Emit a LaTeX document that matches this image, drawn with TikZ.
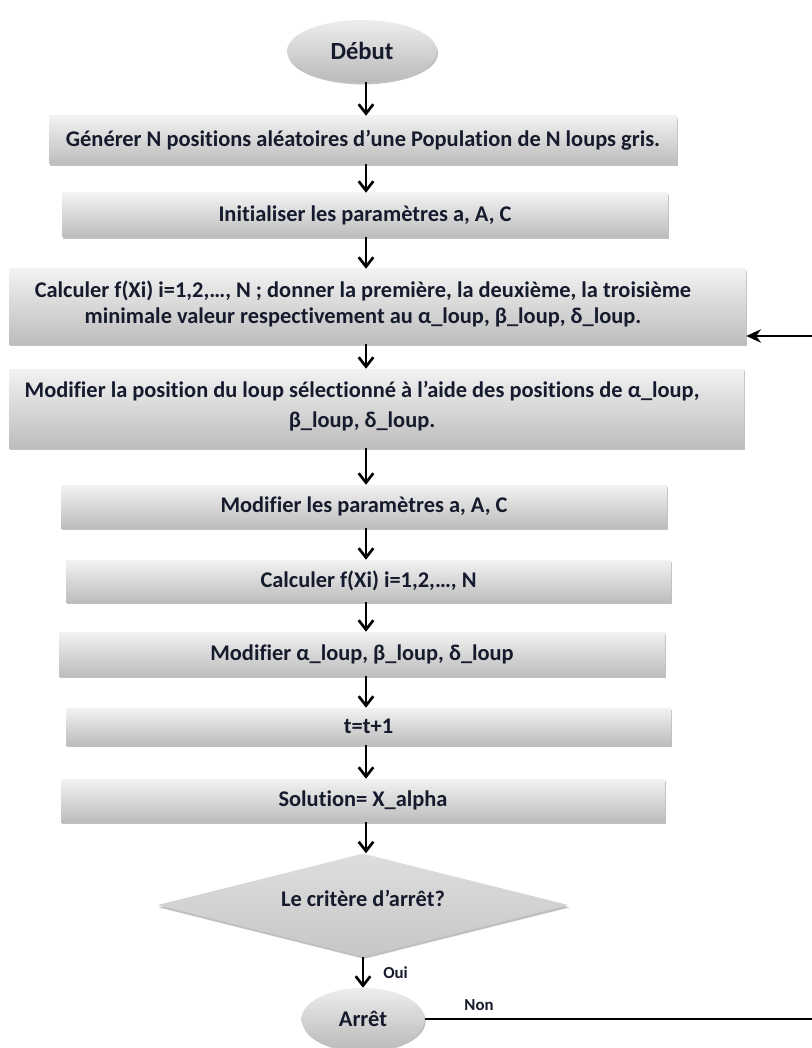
\documentclass[tikz,border=0pt]{standalone}
\usepackage{fontspec}
\setmainfont{Carlito}[Ligatures=NoCommon]
\usetikzlibrary{arrows.meta,shapes.geometric,shadows}

\definecolor{ink}{HTML}{151B2C}

\begin{document}
\begin{tikzpicture}[x=0.75pt,y=-0.75pt,
  lbl/.style={font=\fontsize{16.8}{19.5}\selectfont\bfseries, text=ink, align=center, inner sep=0pt},
  small/.style={font=\fontsize{12.6}{14}\selectfont\bfseries, text=ink, inner sep=0pt},
  soft/.style={drop shadow={shadow xshift=0.8pt, shadow yshift=-1.8pt, opacity=0.35, fill=black!70}},
  stepbox/.style={rectangle, draw=none, top color=black!5, bottom color=black!26,
    inner sep=0pt, soft, lbl},
  term/.style={ellipse, draw=none, top color=black!7, bottom color=black!27,
    inner sep=0pt, soft, lbl},
  test/.style={diamond, draw=none, top color=black!13, bottom color=black!22,
    aspect=4, inner sep=0pt, soft},
  flow/.style={line width=2pt, -{Straight Barb[length=7pt,width=11pt,line width=2pt]}},
  back/.style={line width=2pt},
  backin/.style={line width=2pt, -{Stealth[length=11pt,width=10pt]}}
]
\useasboundingbox (0,0) rectangle (811,1048);
\coordinate (col) at (366,0);

% start / stop terminals
\node[term, font=\fontsize{18.5}{20}\selectfont\bfseries,
  minimum width=150*0.75pt, minimum height=62*0.75pt] (debut) at (362,51) {Début};

% process boxes
\node[stepbox, minimum width=628*0.75pt, minimum height=48*0.75pt] (b1) at (363,140)
  {Générer N positions aléatoires d’une Population de N loups gris.};
\node[stepbox, minimum width=606*0.75pt, minimum height=44*0.75pt] (b2) at (365,215)
  {Initialiser les paramètres a, A, C};
\node[stepbox, minimum width=737*0.75pt, minimum height=75*0.75pt] (b3) at (377.5,306.5) {};
\node[lbl] (b3t) at (363,304)
  {Calculer f(Xi) i=1,2,…, N ; donner la première, la deuxième, la troisième\\
   minimale valeur respectivement au α\_loup, β\_loup, δ\_loup.};
\node[stepbox, minimum width=735*0.75pt, minimum height=79*0.75pt] (b4) at (376.5,408.5) {};
\node[lbl, font=\fontsize{16.8}{22.5}\selectfont\bfseries] (b4t) at (362,406)
  {Modifier la position du loup sélectionné à l’aide des positions de α\_loup,\\
   β\_loup, δ\_loup.};
\node[stepbox, minimum width=606*0.75pt, minimum height=43*0.75pt] (b5) at (364,506.5)
  {Modifier les paramètres a, A, C};
\node[stepbox, minimum width=605*0.75pt, minimum height=42*0.75pt] (b6) at (368.5,581)
  {Calculer f(Xi) i=1,2,…, N};
\node[stepbox, minimum width=606*0.75pt, minimum height=44*0.75pt] (b7) at (362,654)
  {Modifier α\_loup, β\_loup, δ\_loup};
\node[stepbox, minimum width=605*0.75pt, minimum height=37*0.75pt] (b8) at (368.5,726.5)
  {t=t+1};
\node[stepbox, minimum width=604*0.75pt, minimum height=43*0.75pt] (b9) at (363,800.5)
  {Solution= X\_alpha};

% decision
\node[test, minimum width=411*0.75pt, minimum height=103*0.75pt] (crit) at (363,905) {};
\node[lbl] (critt) at (363,898) {Le critère d’arrêt?};

\node[term, minimum width=123*0.75pt, minimum height=62*0.75pt] (arret) at (363,1019) {Arrêt};

% main flow
\draw[flow] (debut.south -| col) -- (b1.north -| col);
\draw[flow] (b1.south -| col) -- (b2.north -| col);
\draw[flow] (b2.south -| col) -- (b3.north -| col);
\draw[flow] (b3.south -| col) -- (b4.north -| col);
\draw[flow] (b4.south -| col) -- (b5.north -| col);
\draw[flow] (b5.south -| col) -- (b6.north -| col);
\draw[flow] (b6.south -| col) -- (b7.north -| col);
\draw[flow] (b7.south -| col) -- (b8.north -| col);
\draw[flow] (b8.south -| col) -- (b9.north -| col);
\draw[flow] (b9.south -| col) -- (crit.north -| col);
\draw[flow] (crit.south -| arret) -- (arret.north);
\node[small, anchor=west] (oui) at (383,973) {Oui};

% loop back
\coordinate (rb) at (814,1019);
\coordinate (rt) at (814,336);
\draw[back] (arret.east) -- (rb) -- (rt);
\draw[backin] (rt) -- (b3.east |- rt);
\node[small] (non) at (479,1005) {Non};
\end{tikzpicture}
\end{document}
